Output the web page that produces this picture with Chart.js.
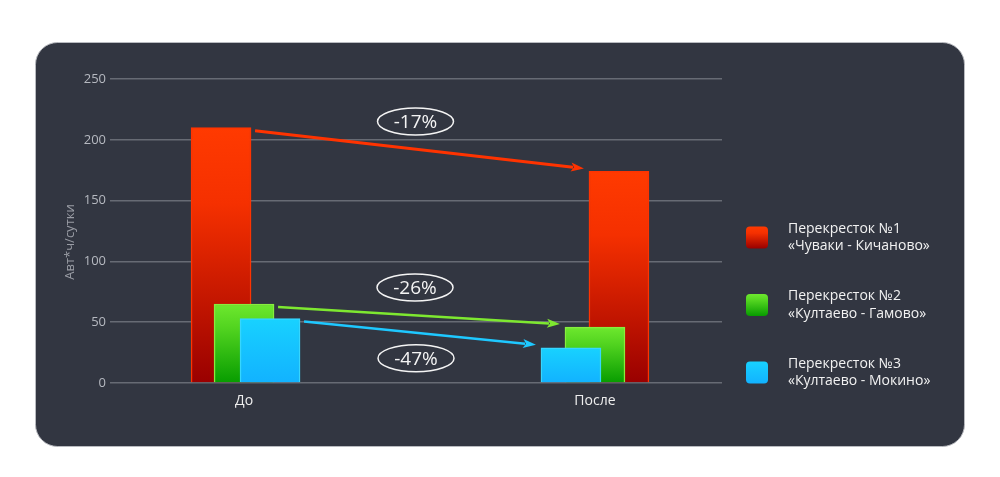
<!DOCTYPE html>
<html>
<head>
<meta charset="utf-8">
<script src="https://cdn.jsdelivr.net/npm/chart.js@4"></script>
<style>
  html, body { margin: 0; padding: 0; background: #ffffff; }
  #wrap { width: 1000px; height: 477px; }
</style>
</head>
<body>
<div id="wrap"><canvas id="grafico" width="1000" height="477"></canvas></div>
<script>
// ====== Datos ======
const categorias = ['До', 'После'];
const series = ['Перекресток №1\n«Чуваки - Кичаново»', 'Перекресток №2\n«Култаево - Гамово»', 'Перекресток №3\n«Култаево - Мокино»'];
const valoresP1 = [210, 174];
const valoresP2 = [65, 46];
const valoresP3 = [53, 29];
const cambios = ['-17%', '-26%', '-47%'];
const ticksY = [0, 50, 100, 150, 200, 250];
const tituloY = 'Авт*ч/сутки';

// ====== Estilos ======
const colores = [
    { top: '#ff3a00', mid: '#f53000', bot: '#990000', borde: '#ff3300', flecha: '#ff3300' },
    { top: '#6ee82e', mid: '#52d420', bot: '#079c00', borde: '#86ee3e', flecha: '#7ee830' },
    { top: '#18d2ff', mid: '#16c8ff', bot: '#12b2ff', borde: '#36d6ff', flecha: '#1ec8ff' }
];
// desplazamiento horizontal de cada serie respecto al centro de la categoría (px)
const desplazPx = [[-23, 24], [0, 0], [26, -24]];
const pxPorCategoria = 351;
const ANCHO_BARRA = 60;

function gradiente(ctx, yTop, yBot, c) {
    const g = ctx.createLinearGradient(0, yTop, 0, yBot);
    g.addColorStop(0, c.top);
    g.addColorStop(0.3, c.mid);
    g.addColorStop(1, c.bot);
    return g;
}

function colorBarra(idx) {
    return (context) => {
        const chart = context.chart;
        const c = colores[idx];
        if (!chart.chartArea || !context.raw) return c.top;
        const y = chart.scales.y;
        return gradiente(chart.ctx, y.getPixelForValue(context.raw.y), y.getPixelForValue(0), c);
    };
}

const todos = [valoresP1, valoresP2, valoresP3];
const datasets = todos.map((vals, s) => ({
    label: series[s],
    data: vals.map((v, i) => ({ x: i + desplazPx[s][i] / pxPorCategoria, y: v })),
    backgroundColor: colorBarra(s),
    borderColor: colores[s].borde,
    borderWidth: 1.5,
    barThickness: ANCHO_BARRA,
    grouped: false,
    order: 3 - s
}));

// ====== Plugin: fondo del panel ======
const panel = {
    id: 'panel',
    beforeDraw(chart) {
        const ctx = chart.ctx;
        ctx.save();
        ctx.fillStyle = '#ffffff';
        ctx.fillRect(0, 0, chart.width, chart.height);
        ctx.beginPath();
        ctx.roundRect(35.5, 42.5, 929, 404, 22);
        ctx.fillStyle = '#323641';
        ctx.fill();
        ctx.strokeStyle = '#b9bbc0';
        ctx.lineWidth = 1;
        ctx.stroke();
        // titulo eje Y
        const area = chart.chartArea;
        ctx.translate(70, (area.top + area.bottom) / 2 + 11);
        ctx.rotate(-Math.PI / 2);
        ctx.fillStyle = '#9a9da5';
        ctx.font = '13px "Open Sans"';
        ctx.textAlign = 'center';
        ctx.textBaseline = 'middle';
        ctx.fillText(tituloY, 0, 0);
        ctx.restore();
    }
};

// ====== Plugin: flechas y porcentajes ======
const offsetsElipse = [-28, -28, 25];
const flechas = {
    id: 'flechas',
    afterDatasetsDraw(chart) {
        const ctx = chart.ctx;
        ctx.save();
        datasets.forEach((ds, s) => {
            const els = chart.getDatasetMeta(s).data;
            const a = els[0], b = els[1];
            const x1 = a.x + a.width / 2 + 4, y1 = a.y + 3;
            const x2 = b.x - b.width / 2 - 5, y2 = b.y - 3;
            const ang = Math.atan2(y2 - y1, x2 - x1);
            const largo = 13, semi = 4.5;
            const bx = x2 - largo * Math.cos(ang), by = y2 - largo * Math.sin(ang);
            ctx.strokeStyle = colores[s].flecha;
            ctx.fillStyle = colores[s].flecha;
            ctx.lineWidth = s === 0 ? 3 : 2.5;
            ctx.beginPath();
            ctx.moveTo(x1, y1);
            ctx.lineTo(bx + 2 * Math.cos(ang), by + 2 * Math.sin(ang));
            ctx.stroke();
            ctx.beginPath();
            ctx.moveTo(x2, y2);
            ctx.lineTo(bx + semi * Math.sin(ang), by - semi * Math.cos(ang));
            ctx.lineTo(bx + 3 * Math.cos(ang), by + 3 * Math.sin(ang));
            ctx.lineTo(bx - semi * Math.sin(ang), by + semi * Math.cos(ang));
            ctx.closePath();
            ctx.fill();

            // elipse con el porcentaje
            const cx = (x1 + x2) / 2 - 4;
            const cy = (y1 + y2) / 2 + offsetsElipse[s];
            ctx.beginPath();
            ctx.ellipse(cx, cy, 38, 13.5, 0, 0, Math.PI * 2);
            ctx.strokeStyle = '#f4f4f4';
            ctx.lineWidth = 1.5;
            ctx.stroke();
            ctx.fillStyle = '#f4f4f4';
            ctx.font = '19px "Open Sans"';
            ctx.textAlign = 'center';
            ctx.textBaseline = 'middle';
            ctx.fillText(cambios[s], cx, cy + 1);
        });
        ctx.restore();
    }
};

// ====== Plugin: leyenda de dos líneas ======
const leyenda = {
    id: 'leyenda',
    afterDraw(chart) {
        const ctx = chart.ctx;
        ctx.save();
        datasets.forEach((ds, s) => {
            const cy = 237.5 + s * 67.5;
            const x = 746, t = 22;
            ctx.beginPath();
            ctx.roundRect(x, cy - t / 2, t, t, 4);
            ctx.fillStyle = gradiente(ctx, cy - t / 2, cy + t / 2, colores[s]);
            ctx.fill();
            ctx.fillStyle = '#f2f2f2';
            ctx.font = '14px "Open Sans"';
            ctx.textAlign = 'left';
            ctx.textBaseline = 'middle';
            const lineas = ds.label.split('\n');
            ctx.fillText(lineas[0], 788, cy - 8.5);
            ctx.fillText(lineas[1], 788, cy + 9);
        });
        ctx.restore();
    }
};

const ctx = document.getElementById('grafico').getContext('2d');
new Chart(ctx, {
    type: 'bar',
    data: { datasets: datasets },
    options: {
        responsive: false,
        animation: false,
        layout: { padding: { left: 0, right: 278, top: 79, bottom: 40 } },
        plugins: {
            legend: { display: false },
            tooltip: { enabled: false }
        },
        scales: {
            x: {
                type: 'linear',
                min: -0.382,
                max: 1.362,
                offset: false,
                bounds: 'ticks',
                grid: { display: false, drawTicks: false },
                border: { display: false },
                afterBuildTicks: (scale) => { scale.ticks = categorias.map((c, i) => ({ value: i })); },
                afterFit: (scale) => { scale.height = 54; },
                ticks: {
                    color: '#eeeeee',
                    font: { family: 'Open Sans', size: 14 },
                    padding: 10,
                    callback: (v) => categorias[v]
                }
            },
            y: {
                min: 0,
                max: 250,
                afterBuildTicks: (scale) => { scale.ticks = ticksY.map(v => ({ value: v })); },
                afterFit: (scale) => { scale.width = 110; },
                grid: { color: '#676b74', lineWidth: 1.5, drawTicks: false },
                border: { display: false },
                ticks: {
                    color: '#b6b9c0',
                    font: { family: 'Open Sans', size: 13 },
                    padding: 4
                }
            }
        }
    },
    plugins: [panel, flechas, leyenda]
});
</script>
</body>
</html>
